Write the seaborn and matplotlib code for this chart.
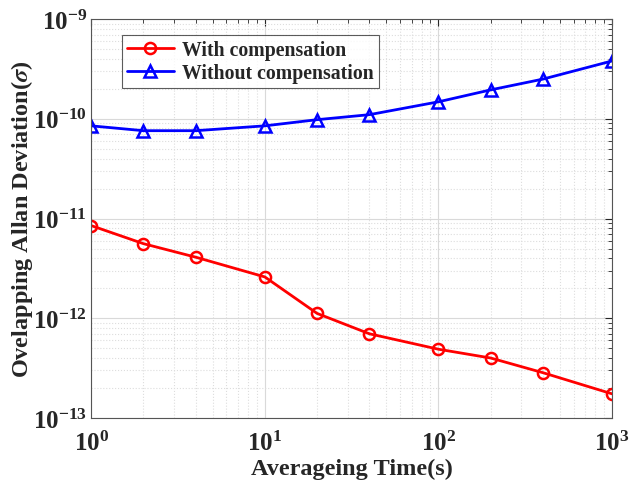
import numpy as np
import pandas as pd
import matplotlib
matplotlib.use("Agg")
import matplotlib.pyplot as plt
import seaborn as sns

# Averaging times and Allan deviations
tau = [1, 2, 4, 10, 20, 40, 100, 200, 400, 1000]
with_comp = [8.5e-12, 5.6e-12, 4.1e-12, 2.6e-12, 1.12e-12, 7.0e-13, 4.9e-13, 4.0e-13, 2.85e-13, 1.75e-13]
without_comp = [8.5e-11, 7.6e-11, 7.6e-11, 8.5e-11, 9.8e-11, 1.1e-10, 1.48e-10, 1.95e-10, 2.5e-10, 3.8e-10]
labels = ["With compensation", "Without compensation"]

sns.set_style("white")
plt.rcParams['font.family'] = ['Liberation Serif', 'DejaVu Serif']
plt.rcParams['font.weight'] = 'bold'
plt.rcParams['mathtext.fontset'] = 'stix'

df = pd.DataFrame({
    "tau": tau * 2,
    "adev": with_comp + without_comp,
    "series": [labels[0]] * len(tau) + [labels[1]] * len(tau),
})

fig = plt.figure(figsize=(6.29, 4.89), dpi=100)
ax = fig.add_axes([0.145, 0.143, 0.828, 0.816])

sns.lineplot(data=df, x="tau", y="adev", hue="series", style="series",
             palette=["#ff0000", "#0000ff"], markers=["o", "^"], dashes=False,
             linewidth=2, markersize=8, markerfacecolor="none",
             markeredgewidth=1.8, ax=ax)

# open markers with matching edge colours
for line, c in zip(ax.get_lines(), ["#ff0000", "#0000ff"]):
    line.set_markeredgecolor(c)
    line.set_markerfacecolor("none")

ax.set_xscale("log")
ax.set_yscale("log")
ax.set_xlim(1, 1000)
ax.set_ylim(1e-13, 1e-9)

ax.grid(True, which="major", color="#d9d9d9", linestyle="-", linewidth=0.8)
ax.grid(True, which="minor", color="#dddddd", linestyle=":", linewidth=0.8)
ax.tick_params(which="both", direction="in", top=True, right=True, labelsize=18)
ax.tick_params(axis="x", which="major", pad=9)
ax.tick_params(axis="y", which="major", pad=3)
ax.tick_params(which="major", length=5)
ax.tick_params(which="minor", length=3)
for sp in ax.spines.values():
    sp.set_color("#555555")
    sp.set_linewidth(0.8)

ax.set_xlabel("Averageing Time(s)", fontsize=17.5, fontweight="bold", labelpad=2)
ax.set_ylabel(r"Ovelapping Allan Deviation($\sigma$)", fontsize=17.5, fontweight="bold")
ax.yaxis.set_label_coords(-0.108, 0.5)

handles, _ = ax.get_legend_handles_labels()
for h, c in zip(handles, ["#ff0000", "#0000ff"]):
    h.set_markerfacecolor("none")
    h.set_markeredgecolor(c)
leg = ax.legend(handles, labels, loc="upper left", bbox_to_anchor=(0.04, 0.985),
                fontsize=14.2, frameon=True, fancybox=False, handlelength=2.4,
                borderpad=0.25, labelspacing=0.15, handletextpad=0.4)
leg.get_frame().set_edgecolor("#333333")
leg.get_frame().set_linewidth(0.8)
for t in leg.get_texts():
    t.set_fontweight("bold")

fig.savefig("out.png", dpi=100)
